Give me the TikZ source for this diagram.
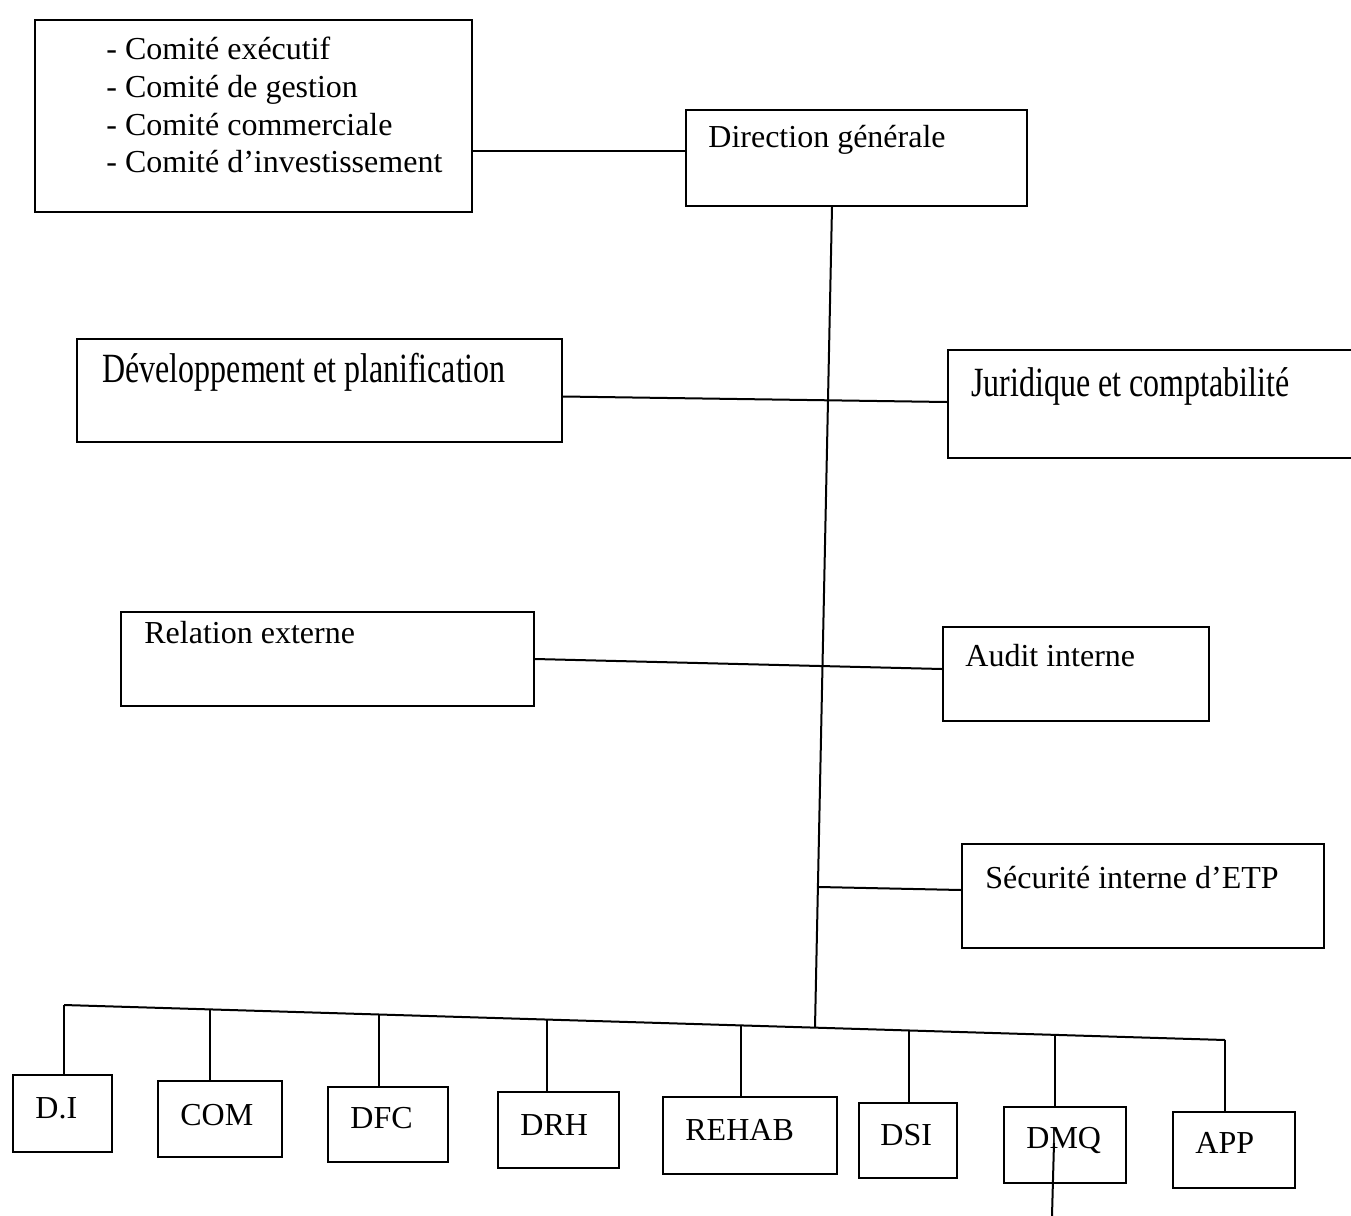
\documentclass[tikz,border=0pt]{standalone}
\usepackage{fontspec}
\setmainfont{Liberation Serif}
\usepackage{graphicx}
\usetikzlibrary{fit,calc}
\begin{document}
\begin{tikzpicture}[x=0.5pt,y=-0.5pt,
  box/.style={draw, line width=1pt, inner sep=0pt},
  txt/.style={inner sep=0pt, font=\fontsize{16}{19}\selectfont},
  link/.style={line width=1pt}]
\useasboundingbox (0,0) rectangle (1351,1216);
\fill[white] (0,0) rectangle (1351,1216);

% upper boxes
\node[box, fit={(35,20) (472,212)}] (com) {};
\node[box, fit={(686,110) (1027,206)}] (dg) {};
\node[box, fit={(77,339) (562,442)}] (dev) {};
\node[box, fit={(948,350) (1400,458)}] (jur) {};
\node[box, fit={(121,612) (534,706)}] (rel) {};
\node[box, fit={(943,627) (1209,721)}] (aud) {};
\node[box, fit={(962,844) (1324,948)}] (sec) {};

% upper texts
\node[txt, anchor=base west] (comT1) at (106,59) {- Comité exécutif};
\node[txt, anchor=base west] (comT2) at (106,97) {- Comité de gestion};
\node[txt, anchor=base west] (comT3) at (106,135) {- Comité commerciale};
\node[txt, anchor=base west] (comT4) at (106,172) {- Comité d’investissement};
\node[txt, anchor=base west] (dgT) at (708,147) {Direction générale};
\node[txt, anchor=base west] (devT) at (102,382) {\scalebox{1}[1.3]{Développement et planification}};
\node[txt, anchor=base west] (jurT) at (971,396) {\scalebox{1}[1.3]{Juridique et comptabilité}};
\node[txt, anchor=base west] (relT) at (144,643) {Relation externe};
\node[txt, anchor=base west] (audT) at (965,666) {Audit interne};
\node[txt, anchor=base west] (secT) at (985,888) {Sécurité interne d’ETP};

% bottom boxes
\node[box, fit={(13,1075) (112,1152)}] (di) {};
\node[box, fit={(158,1081) (282,1157)}] (cm) {};
\node[box, fit={(328,1087) (448,1162)}] (dfc) {};
\node[box, fit={(498,1092) (619,1168)}] (drh) {};
\node[box, fit={(663,1097) (837,1174)}] (reh) {};
\node[box, fit={(859,1103) (957,1178)}] (dsi) {};
\node[box, fit={(1004,1107) (1126,1183)}] (dmq) {};
\node[box, fit={(1173,1112) (1295,1188)}] (app) {};

\node[txt, anchor=base west] (diT) at (35,1118) {D.I};
\node[txt, anchor=base west] (cmT) at (180,1125) {COM};
\node[txt, anchor=base west] (dfcT) at (350,1128) {DFC};
\node[txt, anchor=base west] (drhT) at (520,1135) {DRH};
\node[txt, anchor=base west] (rehT) at (685,1140) {REHAB};
\node[txt, anchor=base west] (dsiT) at (880,1145) {DSI};
\node[txt, anchor=base west] (dmqT) at (1026,1148) {DMQ};
\node[txt, anchor=base west] (appT) at (1195,1153) {APP};

% bus coordinates
\coordinate (bDI) at (64,1005);
\coordinate (bCM) at (210,1009.4);
\coordinate (bDFC) at (379,1014.5);
\coordinate (bDRH) at (547,1019.6);
\coordinate (bREH) at (741,1025.4);
\coordinate (bMain) at (815,1027.6);
\coordinate (bDSI) at (909,1030.5);
\coordinate (bDMQ) at (1055,1034.9);
\coordinate (bAPP) at (1225,1040);
\coordinate (mTop) at (832,206);
\coordinate (dmqIn) at (1054,1143);
\coordinate (dmqEnd) at (1052,1216);

% connectors
\draw[link] (com.east |- dg.west) ++(0,-7) -- ([yshift=3.5pt]dg.west);
\draw[link] (dg.south -| mTop) -- (bMain);
\draw[link] ([yshift=-3pt]dev.east) -- ([yshift=1pt]jur.west);
\draw[link] (rel.east) -- ([yshift=2.5pt]aud.west);
\draw[link] ([yshift=3pt]sec.west) -- ($(mTop)!([yshift=3pt]sec.west)!(bMain)$);
\draw[link] (bDI) -- (bAPP);
\draw[link] (bDI) -- (bDI |- di.north);
\draw[link] (bCM) -- (bCM |- cm.north);
\draw[link] (bDFC) -- (bDFC |- dfc.north);
\draw[link] (bDRH) -- (bDRH |- drh.north);
\draw[link] (bREH) -- (bREH |- reh.north);
\draw[link] (bDSI) -- (bDSI |- dsi.north);
\draw[link] (bDMQ) -- (bDMQ |- dmq.north);
\draw[link] (bAPP) -- (bAPP |- app.north);
\draw[link] (dmqIn) -- (dmqEnd);
\end{tikzpicture}
\end{document}
